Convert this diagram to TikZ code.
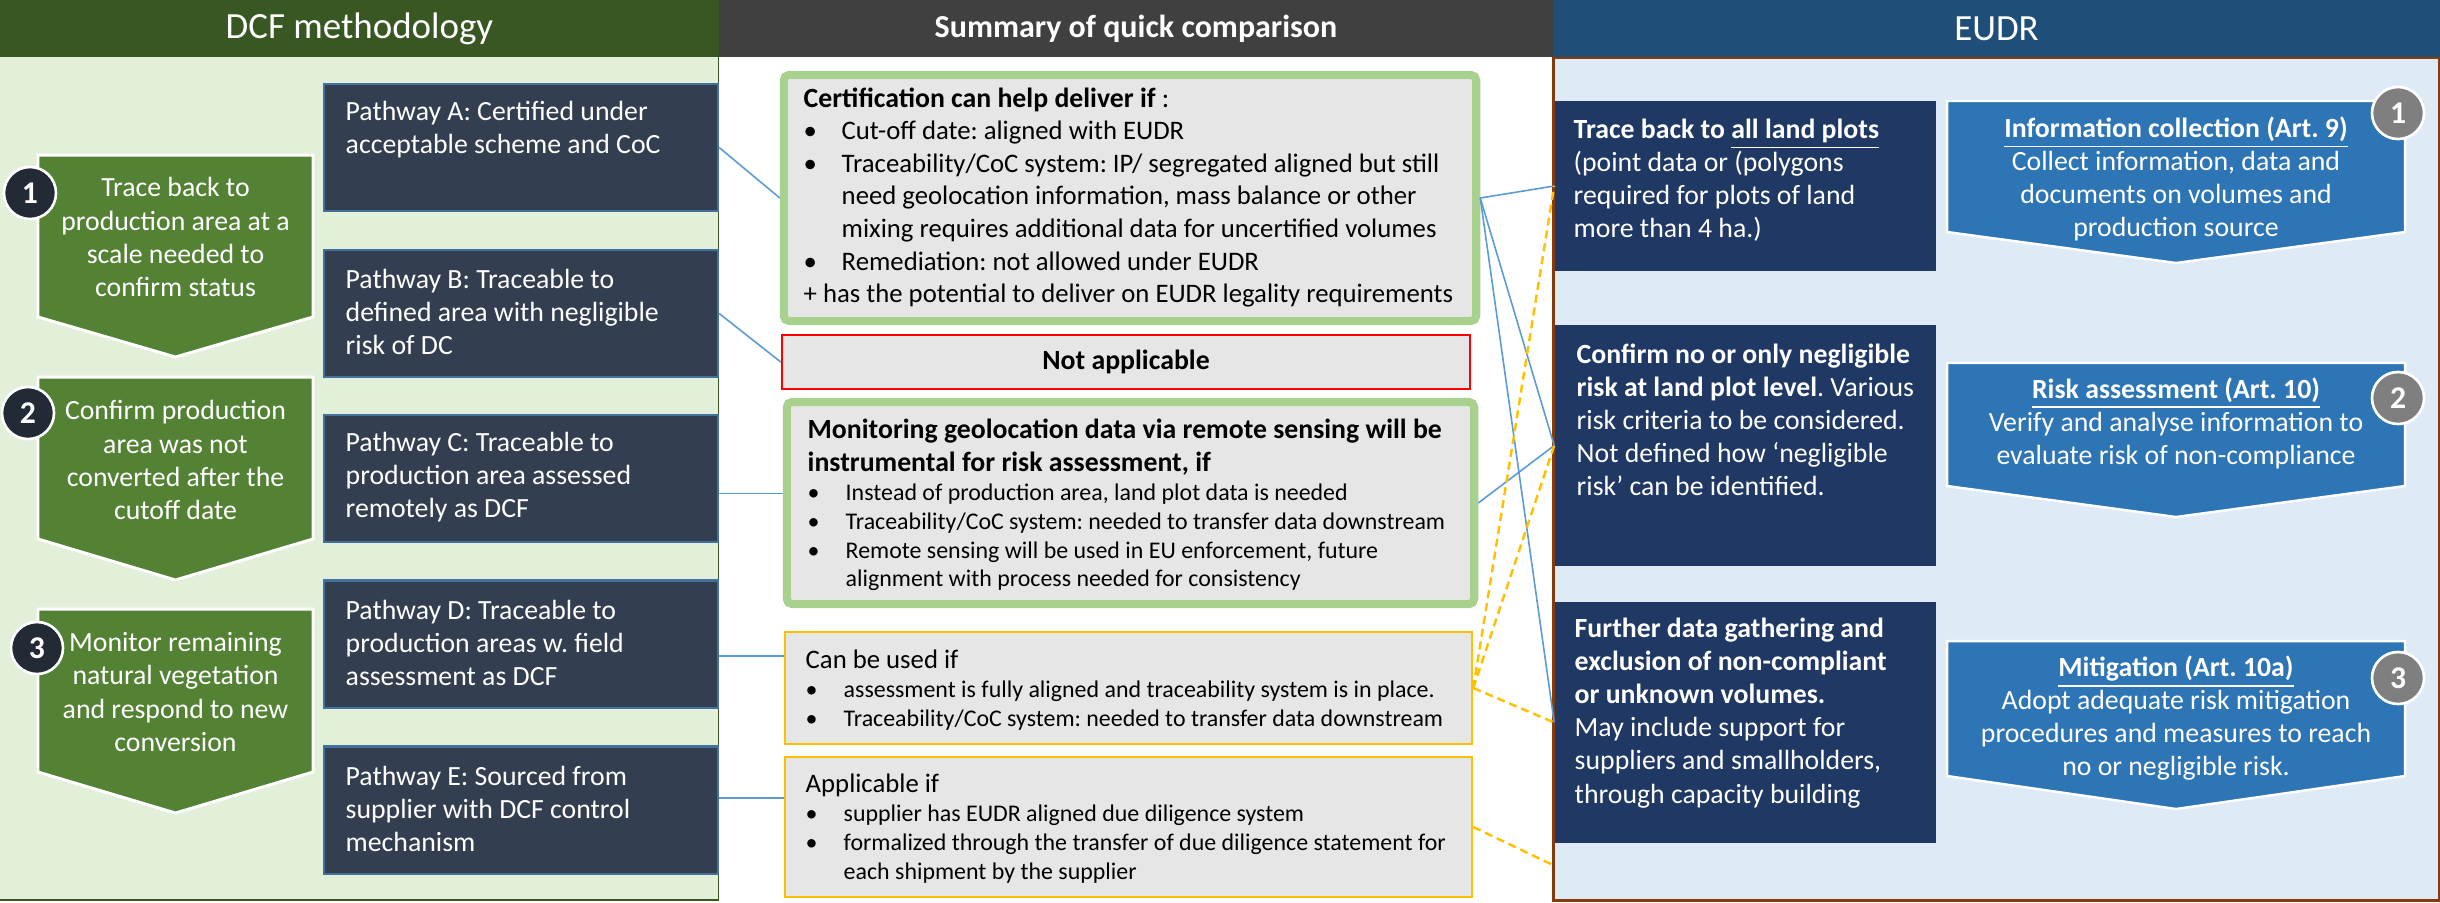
\documentclass[tikz,border=0pt]{standalone}
\usepackage{fontspec}
\setmainfont{Carlito}
\usepackage{tikz}
\usetikzlibrary{calc}
\definecolor{dcfhead}{HTML}{385723}
\definecolor{dcfbg}{HTML}{E2F0D9}
\definecolor{chevgreen}{HTML}{548235}
\definecolor{numdark}{HTML}{222A35}
\definecolor{pathfill}{HTML}{333F50}
\definecolor{pathline}{HTML}{41719C}
\definecolor{sumhead}{HTML}{404040}
\definecolor{boxgray}{HTML}{E7E6E6}
\definecolor{certgreen}{HTML}{A9D18E}
\definecolor{amber}{HTML}{FFC000}
\definecolor{eudrhead}{HTML}{1F4E79}
\definecolor{eudrbg}{HTML}{DEEBF7}
\definecolor{eudrline}{HTML}{843C0C}
\definecolor{darknavy}{HTML}{1F3864}
\definecolor{chevblue}{HTML}{2E75B6}
\definecolor{numgray}{HTML}{7F7F7F}
\definecolor{linkblue}{HTML}{5B9BD5}
\newcommand{\tsp}{\spaceskip=0pt\xspaceskip=0pt\frenchspacing\hyphenpenalty=10000}
\newcommand{\fsmain}{\fontsize{7.9}{9.4}\selectfont\tsp}
\newcommand{\fsbody}{\fontsize{7.6}{9.25}\selectfont\tsp}
\newcommand{\fssmall}{\fontsize{6.8}{8.2}\selectfont\tsp}
\newcommand{\fshead}{\fontsize{10.5}{12}\selectfont}
\newcommand{\bitem}{\makebox[0.38cm][l]{\textbullet}}
\newcommand{\bindent}{\hspace*{0.38cm}}
\tikzset{
    head style/.style={inner sep=0pt,minimum height=0.57cm,text=white},
    chev style dcf/.style={fill=chevgreen,draw=white,line width=0.85pt},
    chev style eudr/.style={fill=chevblue,draw=white,line width=0.7pt},
    text style chev/.style={inner sep=0pt,align=center,text=white,font=\fsmain},
    num style dcf/.style={circle,fill=numdark,draw=white,line width=0.75pt,minimum size=0.52cm,inner sep=0pt,text=white,font=\fontsize{9}{9}\selectfont\bfseries},
    num style eudr/.style={num style dcf,fill=numgray},
    box style path/.style={draw=pathline,fill=pathfill,line width=0.6pt,minimum width=3.94cm,minimum height=1.27cm,inner sep=0pt},
    text style path/.style={anchor=west,inner sep=0pt,align=left,text=white,font=\fsmain},
    box style green/.style={draw=certgreen,fill=boxgray,line width=2.3pt,rounded corners=1.5pt,inner sep=0pt},
    box style amber/.style={draw=amber,fill=boxgray,line width=0.6pt,inner sep=0pt},
    text style box/.style={anchor=west,inner sep=0pt,align=left,text width=6.9cm},
    box style dark/.style={fill=darknavy,minimum width=3.81cm,inner sep=0pt},
    text style dark/.style={anchor=west,inner sep=0pt,align=left,text=white,font=\fsmain},
    line style link/.style={draw=linkblue,line width=0.45pt},
    line style dash/.style={draw=amber,line width=0.7pt,dash pattern=on 2.3pt off 1.4pt},
}

\begin{document}
\begin{tikzpicture}[x=0.01cm,y=-0.01cm]
   \useasboundingbox (0,0) rectangle (2440,902);
   % panels
   \fill[dcfbg] (0,57) rectangle (719,900);
   \draw[dcfhead,line width=0.6pt] (719,0) -- (719,900) -- (0,900);
   \fill[white] (719,57) rectangle (1553,902);
   \draw[eudrline,fill=eudrbg,line width=0.85pt] (1553,57) rectangle (2439,900);
   \node[head style,fill=dcfhead,minimum width=7.19cm,font=\fshead] (hdcf) at (359.5,28.5) {DCF methodology};
   \node[head style,fill=sumhead,minimum width=8.34cm,font=\fontsize{9.1}{11}\selectfont\bfseries] (hsum) at (1136,28.5) {Summary of quick comparison};
   \node[head style,fill=eudrhead,minimum width=8.87cm,font=\fshead] (heudr) at (1996.5,28.5) {EUDR};

   % DCF steps
   \draw[chev style dcf] (38,155) -- (313,155) -- (313,317) -- (175.5,357) -- (38,317) -- cycle;
   \draw[chev style dcf] (38,377) -- (313,377) -- (313,539) -- (175.5,580) -- (38,539) -- cycle;
   \draw[chev style dcf] (38,609) -- (313,609) -- (313,772) -- (175.5,813) -- (38,772) -- cycle;
   \node[text style chev] (c1) at (175.5,237) {Trace back to\\production area at a\\scale needed to\\confirm status};
   \node[text style chev] (c2) at (175.5,460) {Confirm production\\area was not\\converted after the\\cutoff date};
   \node[text style chev] (c3) at (175.5,692) {Monitor remaining\\natural vegetation\\and respond to new\\conversion};
   \node[num style dcf] (n1) at (30,193) {1};
   \node[num style dcf] (n2) at (28,413) {2};
   \node[num style dcf] (n3) at (37,648) {3};

   % pathways
   \node[box style path] (pA) at (521,147.5) {};
   \node[box style path] (pB) at (521,313.5) {};
   \node[box style path] (pC) at (521,478.5) {};
   \node[box style path] (pD) at (521,644) {};
   \node[box style path] (pE) at (521,810) {};
   \node[text style path] (pAt) at (345,130) {Pathway A: Certified under\\acceptable scheme and CoC};
   \node[text style path] (pBt) at (345,312) {Pathway B: Traceable to\\defined area with negligible\\risk of DC};
   \node[text style path] (pCt) at (345,477) {Pathway C: Traceable to\\production area assessed\\remotely as DCF};
   \node[text style path] (pDt) at (345,643) {Pathway D: Traceable to\\production areas w. field\\assessment as DCF};
   \node[text style path] (pEt) at (345,809) {Pathway E: Sourced from\\supplier with DCF control\\mechanism};

   % comparison
   \node[box style green,minimum width=6.92cm,minimum height=2.46cm] (cert) at (1130,198) {};
   \node[text style box] (certt) at (803,197.5) {{\fsmain\textbf{Certification can help deliver if} :\par}{\fsbody\bitem Cut-off date: aligned with EUDR\\
   \bitem Traceability/CoC system: IP/ segregated aligned but still\\
   \bindent need geolocation information, mass balance or other\\
   \bindent mixing requires additional data for uncertified volumes\\
   \bitem Remediation: not allowed under EUDR\\
   + has the potential to deliver on EUDR legality requirements\par}};
   \node[draw=red,fill=boxgray,line width=0.6pt,inner sep=0pt,minimum width=6.88cm,minimum height=0.54cm,font=\fsmain\bfseries] (na) at (1126,362) {Not applicable};
   \node[box style green,minimum width=6.87cm,minimum height=2.02cm] (mon) at (1130.5,503) {};
   \node[text style box] (mont) at (807,505) {{\fsmain\bfseries Monitoring geolocation data via remote sensing will be\\
   instrumental for risk assessment, if\par}{\fssmall\bitem Instead of production area, land plot data is needed\\
   \bitem Traceability/CoC system: needed to transfer data downstream\\
   \bitem Remote sensing will be used in EU enforcement, future\\
   \bindent alignment with process needed for consistency\par}};
   \node[box style amber,minimum width=6.87cm,minimum height=1.12cm] (can) at (1128.5,688) {};
   \node[text style box] (cant) at (805,690) {{\fsbody Can be used if\par}{\fssmall\bitem assessment is fully aligned and traceability system is in place.\\
   \bitem Traceability/CoC system: needed to transfer data downstream\par}};
   \node[box style amber,minimum width=6.87cm,minimum height=1.40cm] (app) at (1128.5,827) {};
   \node[text style box] (appt) at (805,828.5) {{\fsbody Applicable if\par}{\fssmall\bitem supplier has EUDR aligned due diligence system\\
   \bitem formalized through the transfer of due diligence statement for\\
   \bindent each shipment by the supplier\par}};

   % EUDR requirements
   \node[box style dark,minimum height=1.70cm] (t1) at (1745.5,186) {};
   \node[box style dark,minimum height=2.41cm] (t2) at (1745.5,445.5) {};
   \node[box style dark,minimum height=2.41cm] (t3) at (1745.5,722.5) {};
   \node[text style dark] (t1t) at (1573,180) {\textbf{Trace back to \underline{all land plots}}\\(point data or (polygons\\required for plots of land\\more than 4 ha.)};
   \node[text style dark] (t2t) at (1576,420) {\textbf{Confirm no or only negligible}\\\textbf{risk at land plot level}. Various\\risk criteria to be considered.\\Not defined how `negligible\\risk' can be identified.};
   \node[text style dark] (t3t) at (1574,713) {\textbf{Further data gathering and}\\\textbf{exclusion of non-compliant}\\\textbf{or unknown volumes.}\\May include support for\\suppliers and smallholders,\\through capacity building};

   \draw[chev style eudr] (1947,101) -- (2405,101) -- (2405,232) -- (2176,263) -- (1947,232) -- cycle;
   \draw[chev style eudr] (1947,363) -- (2405,363) -- (2405,486) -- (2176,517) -- (1947,486) -- cycle;
   \draw[chev style eudr] (1947,641) -- (2405,641) -- (2405,776) -- (2176,809) -- (1947,776) -- cycle;
   \node[text style chev] (e1) at (2176,179) {\underline{\textbf{Information collection (Art. 9)}}\\Collect information, data and\\documents on volumes and\\production source};
   \node[text style chev] (e2) at (2176,423) {\underline{\textbf{Risk assessment (Art. 10)}}\\Verify and analyse information to\\evaluate risk of non-compliance};
   \node[text style chev] (e3) at (2176,718) {\underline{\textbf{Mitigation (Art. 10a)}}\\Adopt adequate risk mitigation\\procedures and measures to reach\\no or negligible risk.};
   \node[num style eudr] (m1) at (2398,113) {1};
   \node[num style eudr] (m2) at (2398,398) {2};
   \node[num style eudr] (m3) at (2398,678) {3};

   % links
   \draw[line style link] (pA.east) -- (cert.west);
   \draw[line style link] (pB.east) -- (na.west);
   \draw[line style link] ([yshift=-0.15cm]pC.east) -- ([yshift=-0.15cm]pC.east -| mon.west);
   \draw[line style link] ([yshift=-0.12cm]pD.east) -- ([yshift=-0.12cm]pD.east -| can.west);
   \draw[line style link] ([yshift=0.12cm]pE.east) -- ([yshift=0.12cm]pE.east -| app.west);
   \draw[line style link] (cert.east) -- (t1.west);
   \draw[line style link] (cert.east) -- (t2.west);
   \draw[line style link] (cert.east) -- (t3.west);
   \draw[line style link] (mon.east) -- (t2.west);
   \coordinate (append) at (1553,865);
   \draw[line style dash] (can.east) -- (t1.west);
   \draw[line style dash] (can.east) -- (t2.west);
   \draw[line style dash] (can.east) -- (t3.west);
   \draw[line style dash] (app.east) -- (append);
\end{tikzpicture}
\end{document}
